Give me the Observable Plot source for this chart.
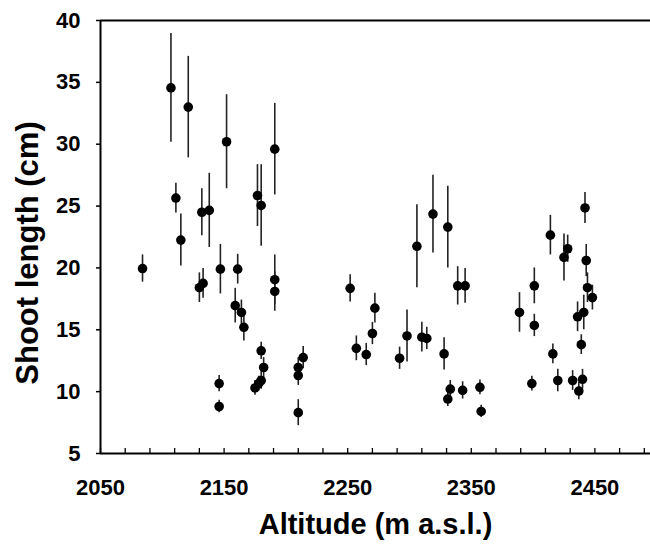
<!DOCTYPE html>
<html>
<head>
<meta charset="utf-8">
<script src="https://cdn.jsdelivr.net/npm/d3@7"></script>
<script src="https://cdn.jsdelivr.net/npm/@observablehq/plot@0.6"></script>
<style>
  html, body { margin: 0; padding: 0; background: #fff; }
  #chart svg { font-family: "Liberation Sans", Arial, sans-serif; font-weight: bold; }
</style>
</head>
<body>
<div id="chart"></div>
<script>
const altitude = [2084, 2107, 2111, 2115, 2121, 2130, 2133, 2132, 2138, 2146,
  2146, 2147, 2152, 2159, 2161, 2164, 2166, 2175, 2177, 2178,
  2180, 2180, 2180, 2182, 2191, 2191, 2191, 2210, 2210, 2210,
  2214, 2252, 2257, 2265, 2270, 2272, 2292, 2298, 2306, 2310,
  2314, 2319, 2328, 2331, 2331, 2333, 2339, 2343, 2345, 2357,
  2358, 2389, 2399, 2401, 2401, 2414, 2416, 2420, 2425, 2428,
  2432, 2436, 2437, 2439, 2440, 2441, 2442, 2443, 2444, 2448];
const shootLength = [19.95, 34.55, 25.65, 22.25, 33.0, 18.4, 18.75, 24.5, 24.65, 10.65,
  8.8, 19.9, 30.2, 16.95, 19.9, 16.4, 15.2, 10.3, 25.85, 10.65,
  25.05, 10.9, 13.3, 11.95, 29.6, 19.05, 18.1, 11.95, 11.3, 8.3,
  12.75, 18.35, 13.5, 13.0, 14.7, 16.75, 12.7, 14.5, 21.75, 14.4,
  14.3, 24.35, 13.05, 9.4, 23.3, 10.2, 18.55, 10.1, 18.55, 10.35,
  8.4, 16.4, 10.65, 18.55, 15.35, 22.65, 13.05, 10.9, 20.85, 21.55,
  10.9, 16.05, 10.05, 13.8, 11.0, 16.4, 24.85, 20.6, 18.4, 17.6];
const errorSize = [1.1, 4.4, 1.2, 2.1, 4.1, 1.2, 1.2, 1.9, 3.0, 0.65,
  0.5, 2.0, 3.8, 1.4, 1.2, 1.0, 1.1, 0.6, 2.5, 0.6,
  3.3, 0.7, 0.7, 0.8, 3.7, 2.0, 1.6, 0.8, 0.8, 1.05,
  0.9, 1.1, 1.0, 0.9, 0.9, 1.2, 0.9, 2.1, 3.35, 1.2,
  0.9, 3.15, 1.3, 0.6, 3.3, 0.7, 1.55, 0.7, 1.4, 0.6,
  0.5, 1.6, 0.6, 1.45, 0.9, 1.6, 0.8, 0.9, 1.9, 1.1,
  0.8, 1.2, 0.7, 0.8, 0.8, 1.4, 1.25, 1.3, 1.2, 1.0];
const xMajorTicks = [2050, 2150, 2250, 2350, 2450];
const xMinorTicks = d3.range(2050, 2491, 20);
const yTicks = [5, 10, 15, 20, 25, 30, 35, 40];
const xTitle = "Altitude (m a.s.l.)";
const yTitle = "Shoot length (cm)";

const data = altitude.map((a, i) => ({alt: a, len: shootLength[i], err: errorSize[i]}));

const chart = Plot.plot({
  width: 650,
  height: 550,
  marginLeft: 100,
  marginRight: 0,
  marginTop: 20,
  marginBottom: 97,
  x: {domain: [2050, 2495]},
  y: {domain: [5, 40]},
  marks: [
    Plot.ruleY([40], {stroke: "black", strokeWidth: 2}),
    Plot.ruleY([5], {stroke: "black", strokeWidth: 2}),
    Plot.ruleX([2050], {stroke: "black", strokeWidth: 2}),
    Plot.axisX({ticks: xMinorTicks, tickSize: 5, tickFormat: () => "", dy: -5, strokeWidth: 1.3, label: null}),
    Plot.axisX({ticks: xMajorTicks, tickSize: 0, tickPadding: 26, tickFormat: d => String(d), fontSize: 22, label: null}),
    Plot.axisY({ticks: yTicks, tickSize: 4, tickPadding: 16, fontSize: 22, strokeWidth: 1.5, label: null}),
    Plot.ruleX(data, {x: "alt", y1: d => d.len - d.err, y2: d => d.len + d.err, stroke: "#222", strokeWidth: 1.6}),
    Plot.dot(data, {x: "alt", y: "len", r: 4.8, fill: "black", stroke: "none"}),
    Plot.text([xTitle], {frameAnchor: "bottom", dy: 71, fontSize: 29, fontWeight: "bold", lineAnchor: "middle", fill: "black"}),
    Plot.text([yTitle], {frameAnchor: "left", textAnchor: "middle", dx: -72, dy: 16, rotate: -90, fontSize: 31, fontWeight: "bold", lineAnchor: "middle", fill: "black"})
  ]
});
document.getElementById("chart").appendChild(chart);
</script>
</body>
</html>
